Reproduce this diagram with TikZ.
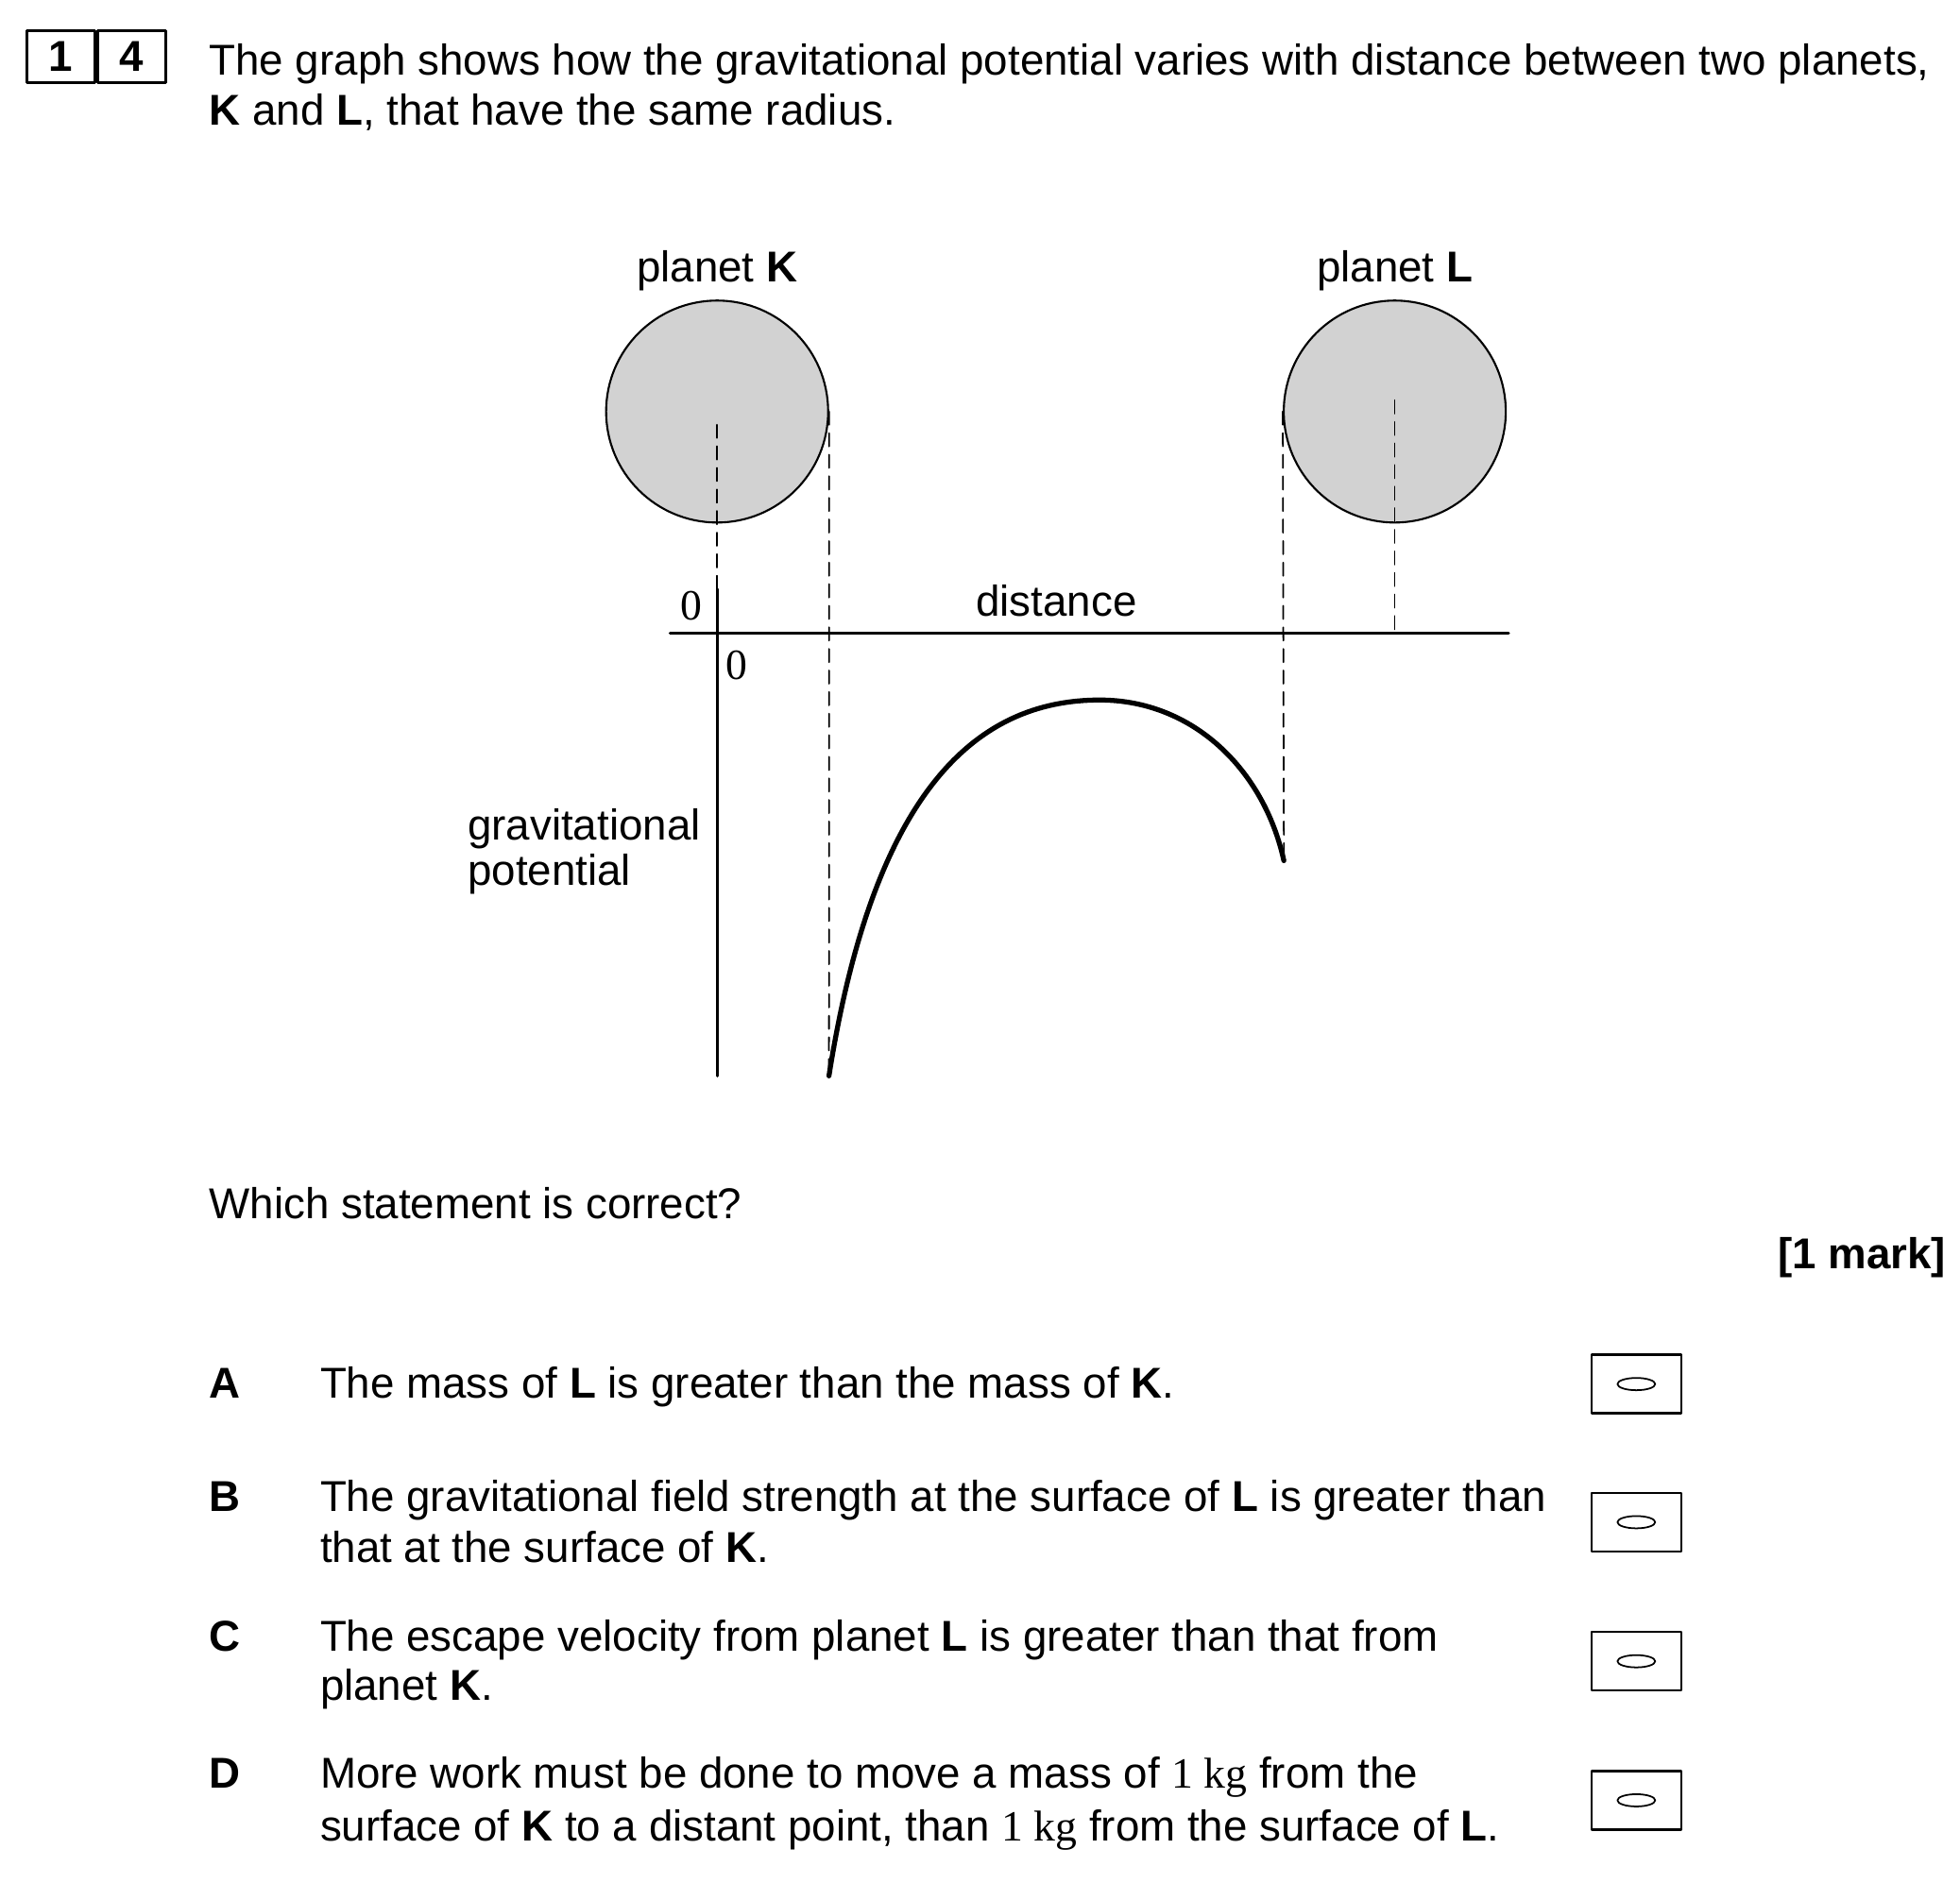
\documentclass[tikz,border=0pt]{standalone}
\usepackage{fontspec}
\setmainfont{Liberation Sans}
\newfontfamily\timesfont{Liberation Serif}
\newcommand{\onekg}{{\timesfont 1 kg}}
\usetikzlibrary{positioning}
\begin{document}
\begin{tikzpicture}[x=0.00995cm, y=-0.00995cm, font=\fontsize{13}{15.6}\selectfont, line join=round, line cap=round,
	txt/.style={anchor=base west, inner sep=0pt},
	ctxt/.style={anchor=base, inner sep=0pt},
	numbox/.style={draw, line width=0.8pt, minimum width=0.72cm, minimum height=0.55cm, inner sep=0pt, font=\fontsize{13}{15.6}\selectfont\bfseries},
	planet/.style={circle, draw, line width=0.6pt, fill=gray!35, minimum size=2.35cm, inner sep=0pt},
	dashline/.style={dash pattern=on 4pt off 2.5pt, line width=0.5pt},
	ansbox/.style={draw, line width=0.7pt, minimum width=0.95cm, minimum height=0.62cm, inner sep=0pt}]
	\useasboundingbox[fill=white] (0,0) rectangle (2085.4,2004);
	% Question number and text
	\node[numbox] (n1) at (65,60) {1};
	\node[numbox, right=0pt of n1] (n4) {4};
	\node[txt] (q1) at (222,80) {The graph shows how the gravitational potential varies with distance between two planets,};
	\node[txt] (q2) at (222,133) {\textbf{K} and \textbf{L}, that have the same radius.};
	% Planets
	\node[planet] (K) at (763,438) {};
	\node[planet] (L) at (1484,438) {};
	\node[ctxt] (labK) at (763,300) {planet \textbf{K}};
	\node[ctxt] (labL) at (1484,300) {planet \textbf{L}};
	% Axes
	\coordinate (O) at (763,674);
	\coordinate (ytop) at (763,627);
	\coordinate (ybot) at (763,1145);
	\coordinate (cstart) at (882,1145);
	\coordinate (ctop) at (1170,745);
	\coordinate (cend) at (1366,916);
	\draw[line width=0.9pt] (713,674) -- (1605,674);
	\draw[line width=0.9pt] (ytop) -- (ybot);
	\node[ctxt] (dist) at (1124,656) {distance};
	\node[ctxt, font=\fontsize{13}{15.6}\timesfont] (zy) at (736,660) {0};
	\node[ctxt, font=\fontsize{13}{15.6}\timesfont] (zx) at (784,723) {0};
	\node[txt] (gp1) at (497,894) {gravitational};
	\node[txt] (gp2) at (497,942) {potential};
	% Dashed guide lines
	\draw[dashline] (K.center) ++(0,14) -- (ytop);
	\draw[dashline] (K.east) -- (cstart);
	\draw[dashline] (L.west) -- (cend);
	\draw[dashline] (L.center) ++(0,-12) -- (L.center |- O);
	% Potential curve
	\draw[line width=1.5pt] (cstart) .. controls (930,840) and (1040,745) .. (ctop)
		.. controls (1270,745) and (1345,820) .. (cend);
	% Options
	\node[txt] (ask) at (222,1297) {Which statement is correct?};
	\node[anchor=base east, inner sep=0pt, font=\fontsize{13}{15.6}\selectfont\bfseries] (mark) at (2071,1350) {[1 mark]};
	\node[txt, font=\fontsize{13}{15.6}\selectfont\bfseries] (lA) at (222,1488) {A};
	\node[txt] (tA) at (340,1488) {The mass of \textbf{L} is greater than the mass of \textbf{K}.};
	\node[txt, font=\fontsize{13}{15.6}\selectfont\bfseries] (lB) at (222,1609) {B};
	\node[txt] (tB1) at (340,1609) {The gravitational field strength at the surface of \textbf{L} is greater than};
	\node[txt] (tB2) at (340,1663) {that at the surface of \textbf{K}.};
	\node[txt, font=\fontsize{13}{15.6}\selectfont\bfseries] (lC) at (222,1757) {C};
	\node[txt] (tC1) at (340,1757) {The escape velocity from planet \textbf{L} is greater than that from};
	\node[txt] (tC2) at (340,1810) {planet \textbf{K}.};
	\node[txt, font=\fontsize{13}{15.6}\selectfont\bfseries] (lD) at (222,1903) {D};
	\node[txt] (tD1) at (340,1903) {More work must be done to move a mass of \onekg{} from the};
	\node[txt] (tD2) at (340,1959) {surface of \textbf{K} to a distant point, than \onekg{} from the surface of \textbf{L}.};
	% Answer boxes
	\foreach \y [count=\i] in {1473,1620,1768,1916}{
		\node[ansbox] (box\i) at (1741,\y) {};
		\draw[line width=0.5pt] (box\i.center) ellipse (0.2cm and 0.065cm);
	}
\end{tikzpicture}
\end{document}
